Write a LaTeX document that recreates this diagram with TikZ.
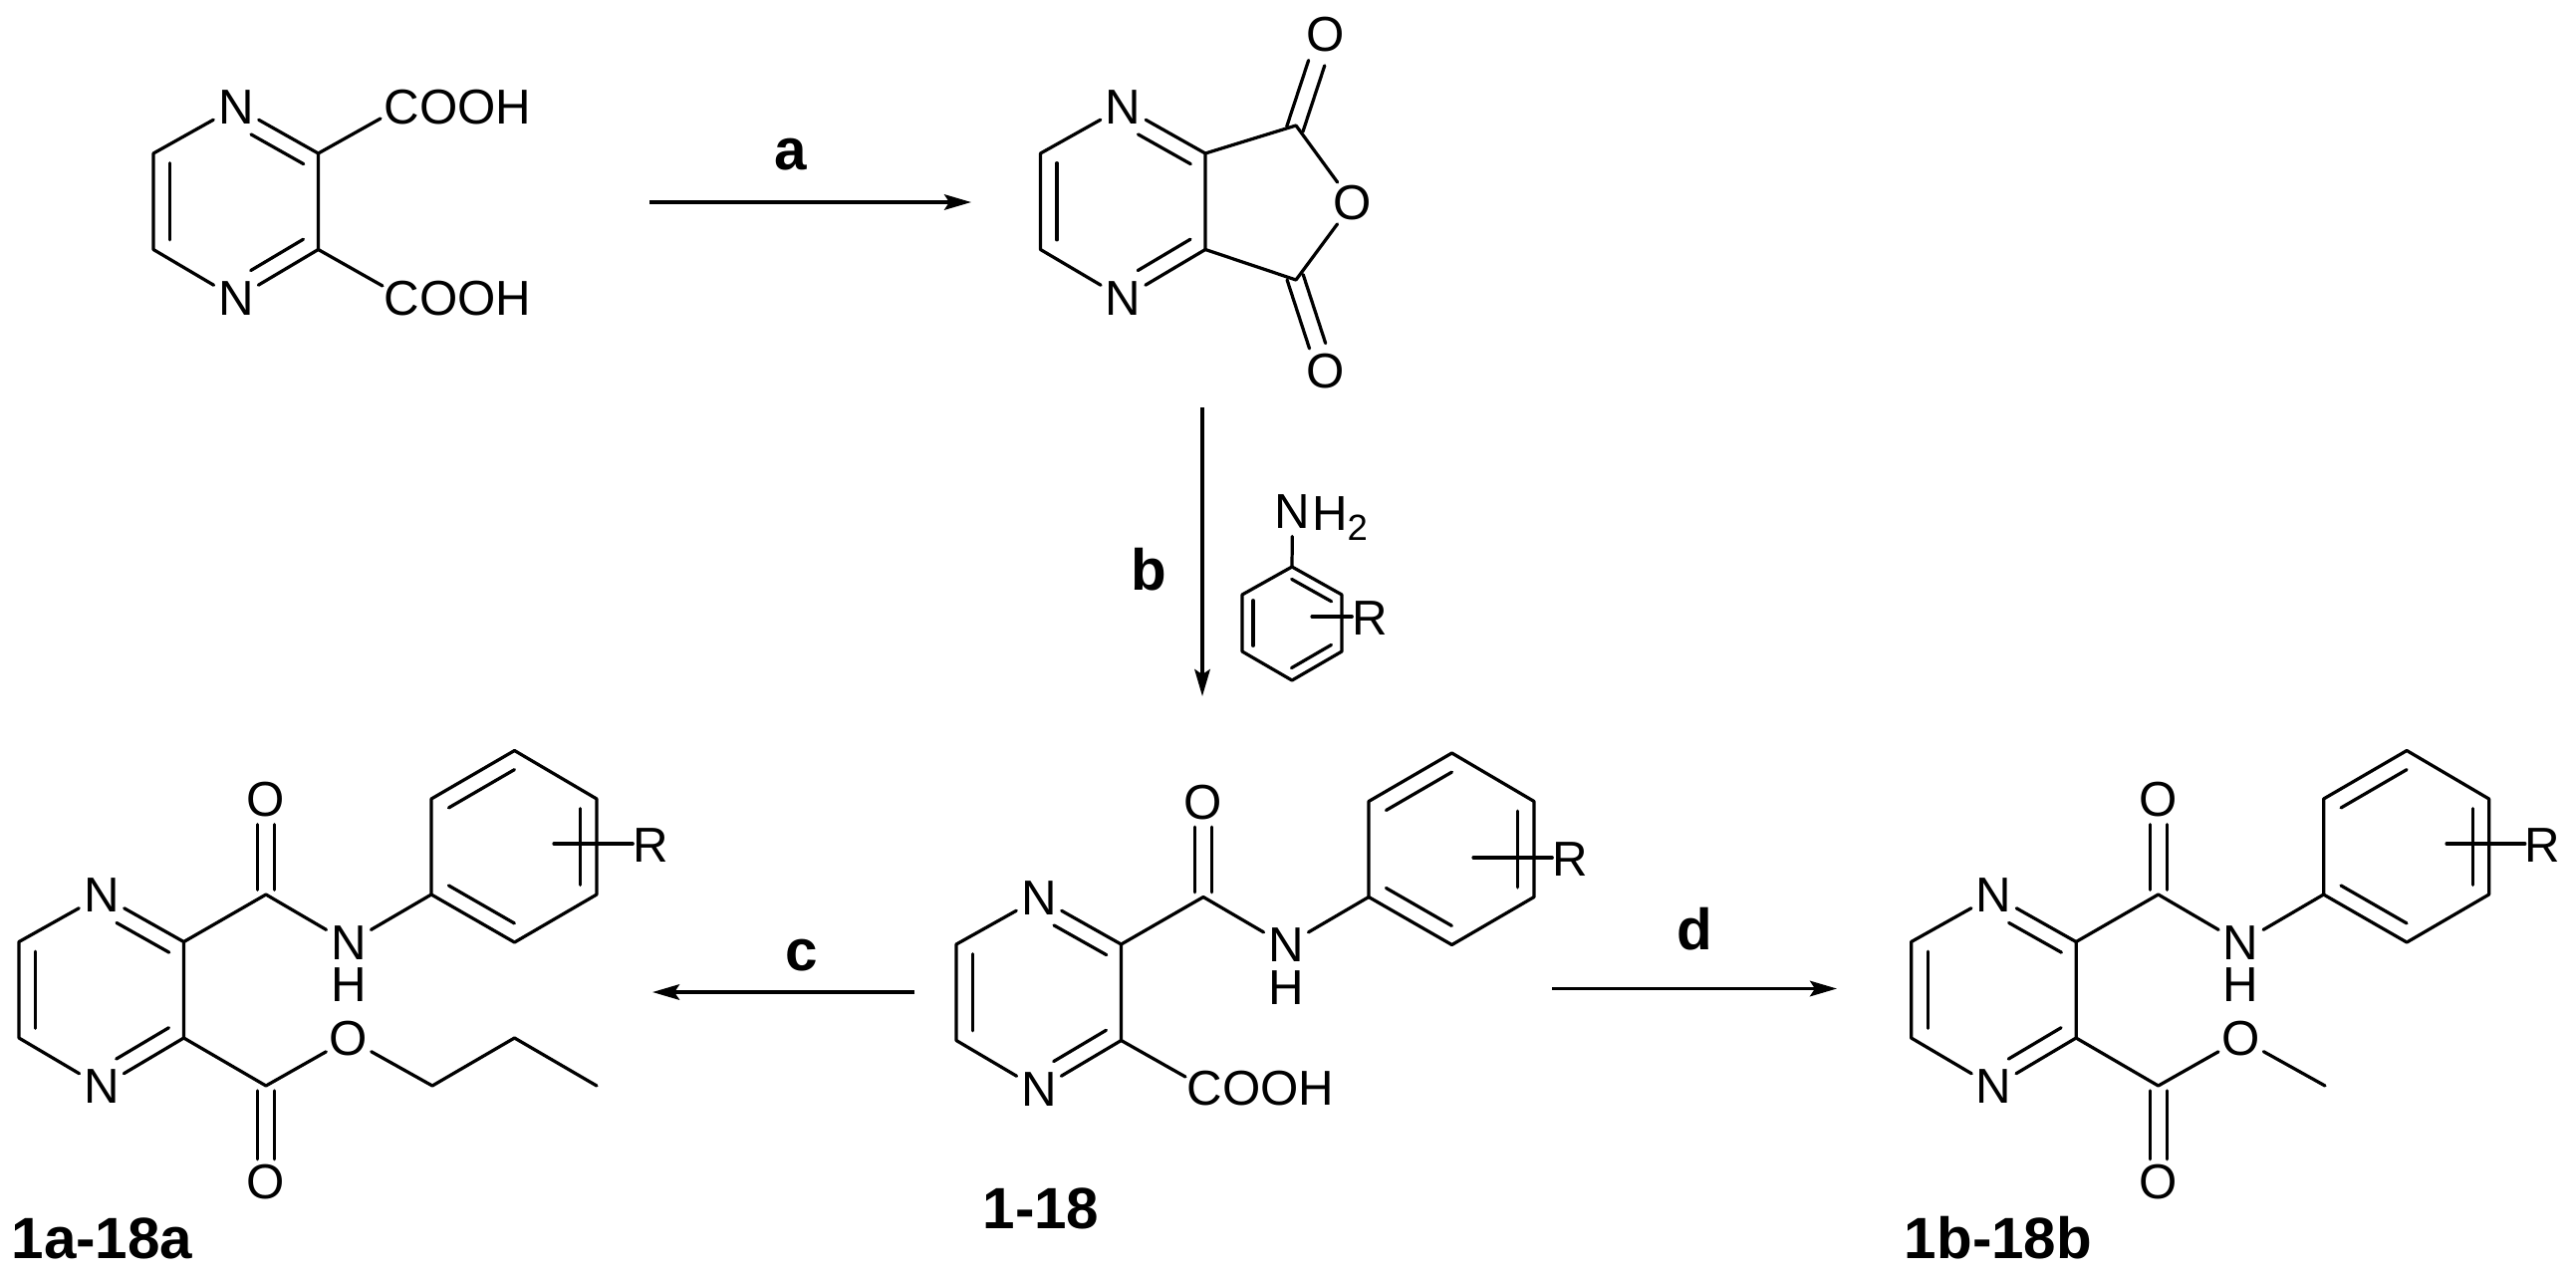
\documentclass[tikz,border=0pt]{standalone}
\usepackage{fontspec}
\setmainfont{Liberation Sans}
\usetikzlibrary{calc,arrows.meta}
\newcommand\atomfont{\fontsize{14}{14}\selectfont}
\newcommand\subfont{\fontsize{10.4}{10.4}\selectfont}
\newcommand\tagfont{\fontsize{16.6}{17}\selectfont\bfseries}
\tikzset{
  bond/.style={line width=.92pt,line cap=round,line join=round},
  atom/.style={circle,inner sep=0pt,outer sep=0pt,minimum size=.52cm,font=\atomfont},
  plainatom/.style={rectangle,inner sep=0pt,outer sep=0pt,font=\atomfont},
  tagtext/.style={inner sep=0pt,outer sep=0pt,anchor=base,font=\tagfont},
  rxn/.style={line width=1.05pt,-{Stealth[length=.27cm,width=.155cm,inset=.05cm]}}
}
% parallel line beside the bond a-b, from fraction s1 to s2, on the side given by the angle
\newcommand\inbond[6][.165cm]{\draw[bond] ($(#2)!#4!(#3)!#1!#6:(#3)$) -- ($(#2)!#5!(#3)!#1!#6:(#3)$);}
\newcommand\carbonyl[4]{\inbond[.085cm]{#1}{#2}{#3}{#4}{90}\inbond[.085cm]{#1}{#2}{#3}{#4}{-90}}
% pyrazine ring, origin at its upper left vertex
\newcommand\pzring{%
  \coordinate (TL) at (0,0);
  \coordinate (BL) at (0,96.5);
  \coordinate (TR) at (165.5,0);
  \coordinate (BR) at (165.5,96.5);
  \node[atom] (N1) at (83,-46.5) {N};
  \node[atom] (N2) at (83,145.5) {N};
  \draw[bond] (N1) -- (TL) -- (BL) -- (N2);
  \draw[bond] (N1) -- (TR) -- (BR) -- (N2);
  \inbond{TL}{BL}{.1}{.9}{90}
  \inbond{N1}{TR}{.28}{.92}{-90}
  \inbond{N2}{BR}{.28}{.92}{90}
}
% ring + amide + substituted phenyl; #1,#2 start of R line, #3,#4 R position
\newcommand\amidecore[4]{%
  \pzring
  \coordinate (CA) at (248,-47.5);
  \node[atom] (OA) at (248,-142.5) {O};
  \node[atom] (NH) at (331,1) {N};
  \node[plainatom] (HN) at (331,43.5) {H};
  \coordinate (P1) at (414,-47.5);
  \coordinate (P2) at (414,-143.5);
  \coordinate (P3) at (497.5,-192);
  \coordinate (P4) at (580,-143.5);
  \coordinate (P5) at (580,-47.5);
  \coordinate (P6) at (497.5,.5);
  \draw[bond] (TR) -- (CA) -- (NH) -- (P1);
  \carbonyl{CA}{OA}{.05}{.74}
  \draw[bond] (P1) -- (P2) -- (P3) -- (P4) -- (P5) -- (P6) -- cycle;
  \inbond{P2}{P3}{.11}{.9}{-90}
  \inbond{P4}{P5}{.1}{.9}{-90}
  \inbond{P1}{P6}{.11}{.9}{90}
  \coordinate (Rs) at (#1,#2);
  \node[plainatom] (Rg) at (#3,#4) {R};
  \draw[bond] (Rs) -- (Rs -| Rg.west);
}
% ester group on the lower ring carbon
\newcommand\estergroup{%
  \coordinate (CE) at (248,144.5);
  \node[atom] (OD) at (248,241.5) {O};
  \node[atom] (OS) at (331,97.5) {O};
  \draw[bond] (BR) -- (CE) -- (OS);
  \carbonyl{CE}{OD}{.05}{.76}
}
\begin{document}
\begin{tikzpicture}[x=.01cm,y=-.01cm]
\useasboundingbox (0,0) rectangle (2586,1282);
\fill[white] (0,0) rectangle (2586,1282);

% pyrazine-2,3-dicarboxylic acid
\begin{scope}[shift={(154,154)},name prefix=acid-]
  \pzring
  \node[plainatom] (CT) at (305.5,-46) {COOH};
  \node[plainatom] (CB) at (305.5,146) {COOH};
  \coordinate (ET) at (228,-35);
  \coordinate (EB) at (230,133);
  \draw[bond] (TR) -- (ET);
  \draw[bond] (BR) -- (EB);
\end{scope}

% anhydride
\begin{scope}[shift={(1044.5,154)},name prefix=anh-]
  \pzring
  \coordinate (CU) at (256.5,-28);
  \coordinate (CD) at (256.5,127);
  \node[atom] (OR) at (313.5,50) {O};
  \node[atom] (OU) at (286.5,-119) {O};
  \node[atom] (OL) at (286.5,219) {O};
  \draw[bond] (TR) -- (CU) -- (OR) -- (CD) -- (BR);
  \carbonyl{CU}{OU}{-.04}{.69}
  \carbonyl{CD}{OL}{-.03}{.72}
\end{scope}

% aniline reagent
\begin{scope}[name prefix=ani-]
  \node[atom,minimum size=.48cm] (N) at (1297.5,514) {N};
  \node[plainatom,anchor=base west] (H2) at (1317,532) {H\raisebox{-.22em}{\subfont 2}};
  \coordinate (A1) at (1297,569);
  \coordinate (A2) at (1347,597);
  \coordinate (A3) at (1347,654);
  \coordinate (A4) at (1297,683);
  \coordinate (A5) at (1247,654);
  \coordinate (A6) at (1247,597);
  \draw[bond] (A1) -- (A2) -- (A3) -- (A4) -- (A5) -- (A6) -- cycle;
  \draw[bond] (N) -- (A1);
  \inbond[.11cm]{A1}{A2}{.1}{.9}{-90}
  \inbond[.11cm]{A3}{A4}{.1}{.9}{-90}
  \inbond[.11cm]{A6}{A5}{.1}{.9}{90}
  \coordinate (Rs) at (1317,619);
  \node[plainatom] (Rg) at (1375,621) {R};
  \draw[bond] (Rs) -- (Rs -| Rg.west);
\end{scope}

% propyl ester 1a-18a
\begin{scope}[shift={(19,945.5)},name prefix=prop-]
  \amidecore{537}{-98.5}{634}{-96.5}
  \estergroup
  \coordinate (E1) at (415,144.5);
  \coordinate (E2) at (497.5,96.5);
  \coordinate (E3) at (580,144.5);
  \draw[bond] (OS) -- (E1) -- (E2) -- (E3);
\end{scope}

% acid 1-18
\begin{scope}[shift={(960,948)},name prefix=mono-]
  \amidecore{519}{-87}{616}{-85}
  \node[plainatom] (CX) at (305.5,145) {COOH};
  \coordinate (EX) at (230,133);
  \draw[bond] (BR) -- (EX);
\end{scope}

% methyl ester 1b-18b
\begin{scope}[shift={(1918.6,945.5)},name prefix=meth-]
  \amidecore{537.4}{-98.5}{634}{-96.5}
  \estergroup
  \coordinate (E1) at (415.4,144.5);
  \draw[bond] (OS) -- (E1);
\end{scope}

% reaction arrows
\coordinate (aS) at (652,203);
\coordinate (aE) at (975,203);
\coordinate (bS) at (1207,409);
\coordinate (bE) at (1207,699);
\coordinate (cS) at (918,996);
\coordinate (cE) at (655,996);
\coordinate (dS) at (1558,992.5);
\coordinate (dE) at (1844,992.5);
\draw[rxn] (aS) -- (aE);
\draw[rxn] (bS) -- (bE);
\draw[rxn] (cS) -- (cE);
\draw[rxn] (dS) -- (dE);

% letters and compound labels
\node[tagtext] (ta) at (794,170) {a};
\node[tagtext] (tb) at (1153,592) {b};
\node[tagtext] (tc) at (805,974.5) {c};
\node[tagtext] (td) at (1701,953) {d};
\node[tagtext] (l1) at (102.5,1263) {1a-18a};
\node[tagtext] (l2) at (1045,1233) {1-18};
\node[tagtext] (l3) at (2006,1263) {1b-18b};
\end{tikzpicture}
\end{document}
